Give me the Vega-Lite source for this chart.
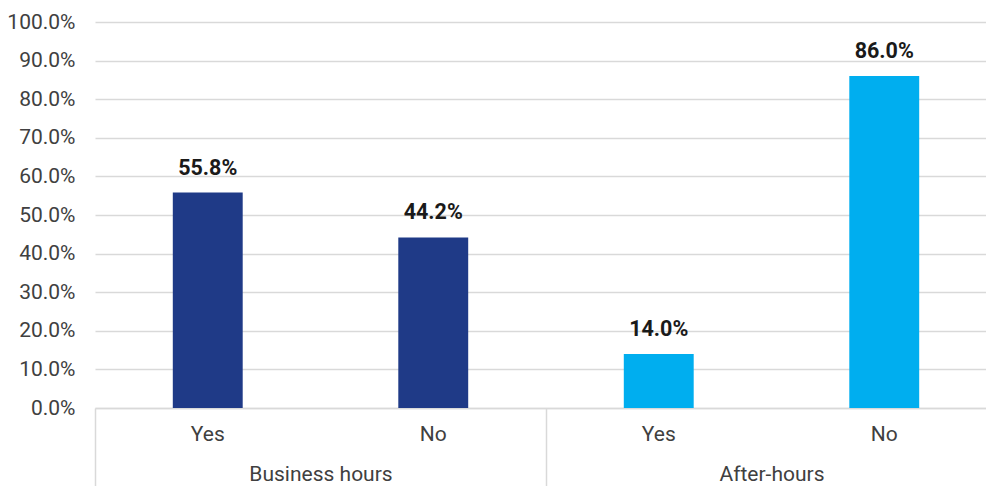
{
  "$schema": "https://vega.github.io/schema/vega-lite/v6.json",
  "autosize": "none",
  "width": 891,
  "height": 386,
  "padding": {"left": 95, "top": 22, "right": 0, "bottom": 78},
  "background": "white",
  "config": {
    "view": {"stroke": null},
    "font": "Roboto",
    "text": {"font": "Roboto"},
    "axisY": {
      "title": null,
      "format": ".1%",
      "tickCount": 10,
      "labelOverlap": false,
      "domain": false,
      "ticks": false,
      "labelPadding": 20,
      "labelFont": "Roboto",
      "labelFontSize": 21,
      "labelColor": "#404040",
      "gridColor": "#D9D9D9",
      "gridWidth": 1.5
    }
  },
  "data": {
    "values": [
      {"group": "Business hours", "cat": "Yes", "value": 0.558},
      {"group": "Business hours", "cat": "No", "value": 0.442},
      {"group": "After-hours", "cat": "Yes", "value": 0.14},
      {"group": "After-hours", "cat": "No", "value": 0.86}
    ]
  },
  "encoding": {
    "x": {
      "field": "group",
      "type": "nominal",
      "sort": ["Business hours", "After-hours"],
      "scale": {"paddingInner": 0, "paddingOuter": 0, "range": [0, 902]},
      "axis": {
        "title": null,
        "labelAngle": 0,
        "labelFont": "Roboto",
        "labelFontSize": 21,
        "labelColor": "#404040",
        "labelPadding": -12,
        "labelBaseline": "middle",
        "tickSize": 78,
        "tickBand": "extent",
        "tickColor": "#D9D9D9",
        "tickWidth": 1.5,
        "domainColor": "#D9D9D9",
        "domainWidth": 1.5
      }
    },
    "xOffset": {
      "field": "cat",
      "type": "nominal",
      "sort": ["Yes", "No"],
      "scale": {"paddingInner": 0.69, "paddingOuter": 0.345}
    },
    "y": {
      "field": "value",
      "type": "quantitative",
      "scale": {"domain": [0, 1], "nice": false},
      "axis": {"tickCount": 10, "labelOverlap": false}
    }
  },
  "layer": [
    {
      "mark": {"type": "bar"},
      "encoding": {
        "color": {
          "field": "group",
          "type": "nominal",
          "scale": {"domain": ["Business hours", "After-hours"], "range": ["#1F3A87", "#00AEEF"]},
          "legend": null
        }
      }
    },
    {
      "mark": {"type": "text", "font": "Roboto", "fontSize": 21.5, "fontWeight": "bold", "color": "#1A1A1A", "baseline": "middle", "dy": -24},
      "encoding": {
        "text": {"field": "value", "type": "quantitative", "format": ".1%"}
      }
    },
    {
      "mark": {"type": "text", "font": "Roboto", "fontSize": 21, "color": "#404040", "baseline": "middle"},
      "encoding": {
        "y": {"datum": -0.07},
        "text": {"field": "cat", "type": "nominal"}
      }
    }
  ]
}
